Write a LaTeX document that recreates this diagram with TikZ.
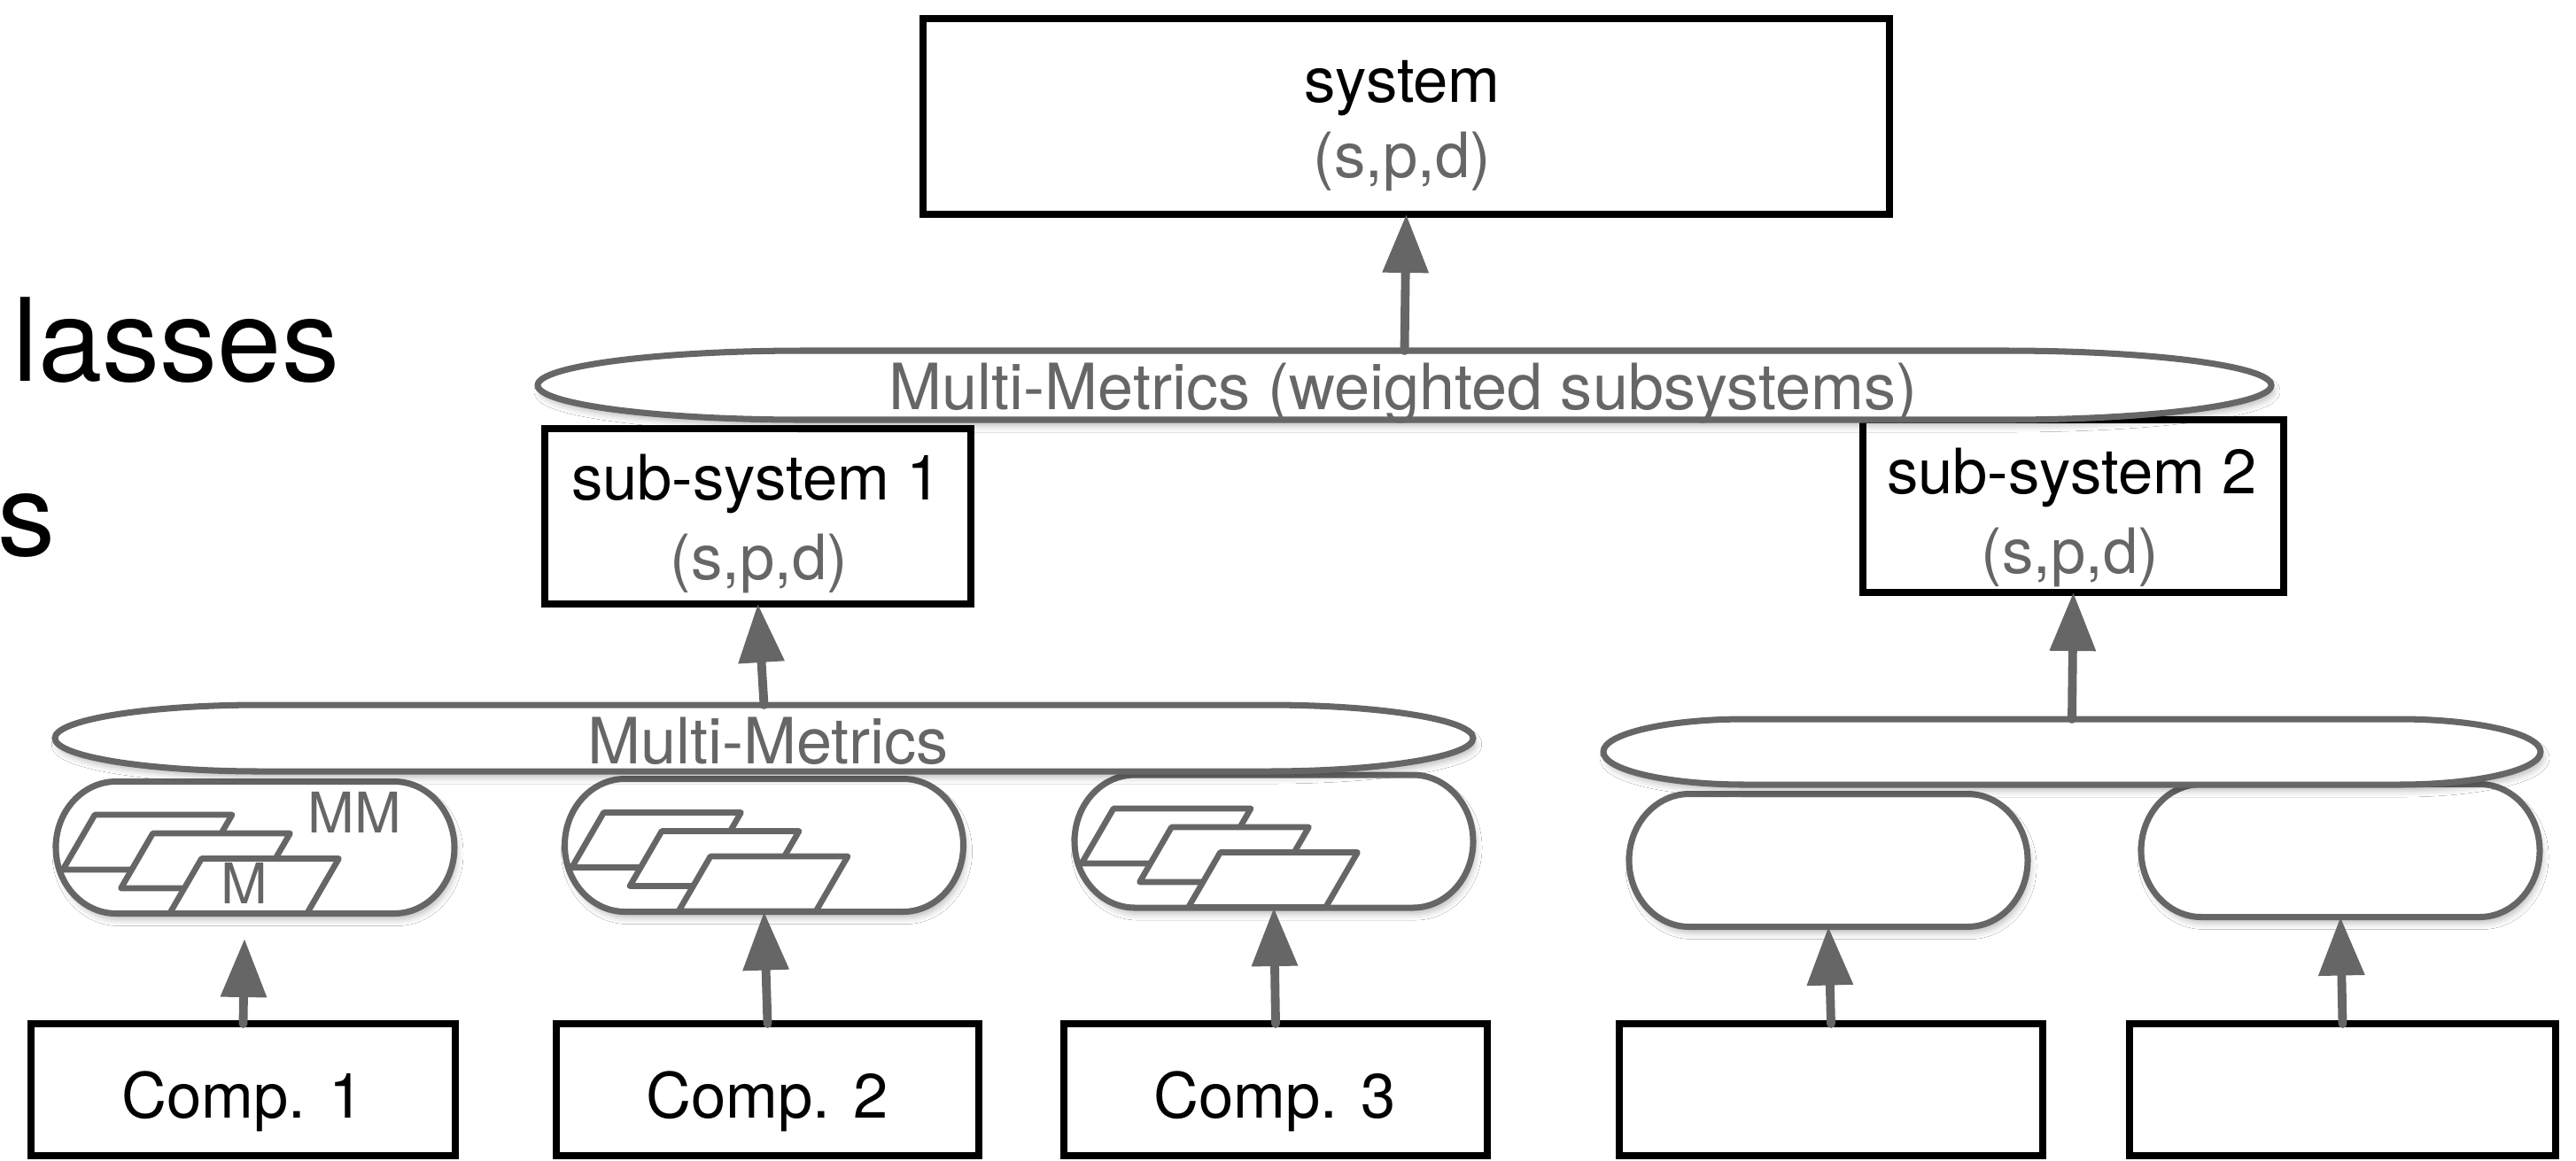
\documentclass[tikz,border=0pt]{standalone}
\usepackage{fontspec}
\setmainfont{TeX Gyre Heros}
\usetikzlibrary{arrows.meta,shadows.blur,calc}
\definecolor{mmgray}{HTML}{666666}
\newcommand{\drawoval}[4]{%
  \draw[#4] ([xshift=#2]#1.north west) -- ([xshift=-#2]#1.north east)
    arc[start angle=90,end angle=-90,x radius=#2,y radius=#3]
    -- ([xshift=#2]#1.south west)
    arc[start angle=270,end angle=90,x radius=#2,y radius=#3] -- cycle;}
\newcommand{\mmicon}[1]{%
  \foreach \dx/\dy in {-1.81/0.37,-1.155/0.16,-0.605/-0.125}{%
    \draw[paral] ([shift={(\dx,\dy)}]#1.center) -- ++(1.55,0) -- ++(-0.36,-0.62) -- ++(-1.55,0) -- cycle;}}
\tikzset{
  box/.style={draw=black, line width=2.2pt, fill=white, inner sep=0pt, outer sep=0pt, rectangle},
  oframe/.style={draw=none, inner sep=0pt, outer sep=0pt, rectangle},
  ovl/.style={draw=mmgray, line width=2pt, fill=white,
    blur shadow={shadow xshift=0.03cm, shadow yshift=-0.07cm, shadow blur radius=0.07cm, shadow opacity=25}},
  paral/.style={draw=mmgray, line width=1.9pt, fill=white, line join=round},
  arr/.style={draw=mmgray, line width=2.8pt, line cap=round, -{Triangle[length=0.66cm,width=0.5cm]}},
  lbl/.style={font=\fontsize{20.1}{24}\selectfont, anchor=base, inner sep=0pt},
  glbl/.style={lbl, text=mmgray},
  mlbl/.style={font=\fontsize{20.5}{24}\selectfont, text=mmgray, anchor=base, inner sep=0pt},
  slbl/.style={font=\fontsize{18}{21}\selectfont, text=mmgray, inner sep=0pt},
  bigtxt/.style={font=\fontsize{37}{44}\selectfont, anchor=base west, inner sep=0pt},
}
\begin{document}
\begin{tikzpicture}
\useasboundingbox[fill=white] (0,0) rectangle (29.08,-13.10);

% cut-off slide text
\node[bigtxt] (cl1) at (0.14,-4.30) {lasses};
\node[bigtxt] (cl2) at (-0.03,-6.27) {s};

% boxes
\node[box, minimum width=10.91cm, minimum height=2.21cm] (sys) at (15.875,-1.315) {};
\node[box, minimum width=4.81cm, minimum height=1.98cm] (ss1) at (8.555,-5.83) {};
\node[box, minimum width=4.75cm, minimum height=1.95cm] (ss2) at (23.405,-5.715) {};
\node[box, minimum width=4.79cm, minimum height=1.49cm] (c1) at (2.745,-12.305) {};
\node[box, minimum width=4.77cm, minimum height=1.49cm] (c2) at (8.665,-12.305) {};
\node[box, minimum width=4.78cm, minimum height=1.49cm] (c3) at (14.40,-12.305) {};
\node[box, minimum width=4.78cm, minimum height=1.49cm] (c4) at (20.67,-12.305) {};
\node[box, minimum width=4.81cm, minimum height=1.49cm] (c5) at (26.445,-12.305) {};

% pills
\node[oframe, minimum width=4.50cm, minimum height=1.49cm] (p1) at (2.88,-9.57) {};
\node[oframe, minimum width=4.50cm, minimum height=1.50cm] (p2) at (8.625,-9.545) {};
\node[oframe, minimum width=4.50cm, minimum height=1.50cm] (p3) at (14.38,-9.50) {};
\node[oframe, minimum width=4.50cm, minimum height=1.50cm] (p4) at (20.64,-9.715) {};
\node[oframe, minimum width=4.50cm, minimum height=1.50cm] (p5) at (26.42,-9.605) {};
\drawoval{p1}{0.68cm}{0.745cm}{ovl}
\drawoval{p2}{0.68cm}{0.75cm}{ovl}
\drawoval{p3}{0.68cm}{0.75cm}{ovl}
\drawoval{p4}{0.68cm}{0.75cm}{ovl}
\drawoval{p5}{0.68cm}{0.75cm}{ovl}
\mmicon{p1}
\mmicon{p2}
\mmicon{p3}
\node[slbl] (mmlbl) at ([shift={(1.12,0.395)}]p1.center) {MM};
\node[slbl] (mlbl) at ([shift={(-0.12,-0.405)}]p1.center) {M};

% elongated ovals
\node[oframe, minimum width=16.01cm, minimum height=0.75cm] (el) at (8.625,-8.335) {};
\node[oframe, minimum width=10.58cm, minimum height=0.74cm] (er) at (23.39,-8.49) {};
\node[oframe, minimum width=19.57cm, minimum height=0.78cm] (eb) at (15.855,-4.35) {};
\drawoval{el}{2.32cm}{0.375cm}{ovl}
\drawoval{er}{1.6cm}{0.37cm}{ovl}
\drawoval{eb}{3.0cm}{0.39cm}{ovl}

% labels
\node[lbl] (systxt) at (15.83,-1.15) {system};
\node[glbl] (sysspd) at (15.83,-2.00) {(s,p,d)};
\node[lbl] (ss1txt) at (8.54,-5.64) {sub-system 1};
\node[glbl] (ss1spd) at (8.57,-6.54) {(s,p,d)};
\node[lbl] (ss2txt) at (23.39,-5.57) {sub-system 2};
\node[glbl] (ss2spd) at (23.37,-6.47) {(s,p,d)};
\node[lbl] (c1txt) at (2.74,-12.62) {Comp. 1};
\node[lbl] (c2txt) at (8.66,-12.62) {Comp. 2};
\node[lbl] (c3txt) at (14.39,-12.62) {Comp. 3};
\node[mlbl] (ebtxt) at (15.84,-4.62) {Multi-Metrics (weighted subsystems)};
\node[mlbl] (eltxt) at (8.67,-8.62) {Multi-Metrics};

% connectors
\coordinate (a1) at (2.76,-10.60);
\draw[arr] (c1.north) -- (a1);
\draw[arr] (c2.north) -- (p2.south);
\draw[arr] (c3.north) -- (p3.south);
\draw[arr] (c4.north) -- (p4.south);
\draw[arr] (c5.north) -- (p5.south);
\draw[arr] (el.north) -- (ss1.south);
\draw[arr] (er.north) -- (ss2.south);
\draw[arr] (eb.north) -- (sys.south);
\end{tikzpicture}
\end{document}
